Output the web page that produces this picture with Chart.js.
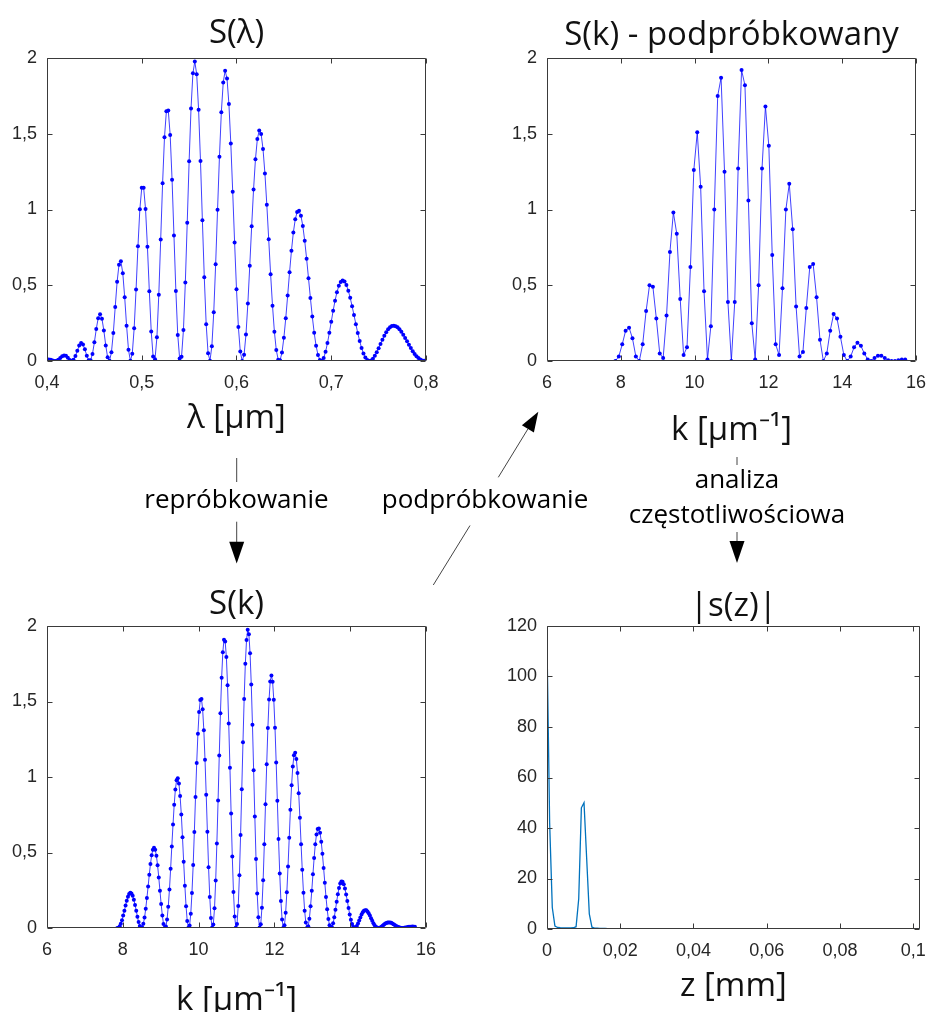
<!DOCTYPE html>
<html><head><meta charset="utf-8">
<script src="https://cdn.jsdelivr.net/npm/chart.js@4.4.1/dist/chart.umd.min.js"></script>
<style>
html,body{margin:0;padding:0;background:#fff;width:937px;height:1012px;overflow:hidden;position:relative;}
canvas{position:absolute;}
#overlay{position:absolute;left:0;top:0;pointer-events:none;}
</style></head><body>
<canvas id="cTL" width="470" height="450" style="left:0;top:0"></canvas>
<canvas id="cTR" width="437" height="450" style="left:500px;top:0"></canvas>
<canvas id="cBL" width="470" height="450" style="left:0;top:570px"></canvas>
<canvas id="cBR" width="437" height="450" style="left:500px;top:570px"></canvas>
<svg id="overlay" width="937" height="1012" xmlns="http://www.w3.org/2000/svg">
  <g stroke="#444" stroke-width="1" fill="none">
    <line x1="236.7" y1="458" x2="236.7" y2="482"/>
    <line x1="236.7" y1="521.7" x2="236.7" y2="542"/>
    <line x1="433.3" y1="585" x2="470" y2="525.5"/>
    <line x1="498.3" y1="477.3" x2="528" y2="428.8"/>
    <line x1="737" y1="457" x2="737" y2="465"/>
    <line x1="737" y1="532" x2="737" y2="541"/>
  </g>
  <g fill="#000" stroke="none">
    <polygon points="229.2,541.7 244.2,541.7 236.7,563.5"/>
    <polygon points="538.3,411.7 533.9,432.4 521.9,425.2"/>
    <polygon points="729.5,541 744.5,541 737,563"/>
  </g>
  <g font-family="Open Sans" font-size="26" fill="#000" text-anchor="middle">
    <text x="236.5" y="508">repróbkowanie</text>
    <text x="485" y="508">podpróbkowanie</text>
    <text x="737" y="488">analiza</text>
    <text x="737" y="523">częstotliwościowa</text>
  </g>
</svg>
<script>
// ---- chart texts ----
const titles = ['S(λ)', 'S(k) - podpróbkowany', 'S(k)', '|s(z)|'];
const xAxisTitles = ['λ [μm]', 'k [μm⁻¹]', 'k [μm⁻¹]', 'z [mm]'];

// ---- tick values ----
const xTicksLambda = [0.4, 0.5, 0.6, 0.7, 0.8];
const xTicksK = [6, 8, 10, 12, 14, 16];
const xTicksZ = [0, 0.02, 0.04, 0.06, 0.08, 0.1];
const yTicksS = [0, 0.5, 1, 1.5, 2];
const yTicksAbs = [0, 20, 40, 60, 80, 100, 120];

// ---- S(lambda) ----
const lambdaUm = [
0.4,0.402,0.404,0.406,0.408,0.41,0.412,0.414,0.416,0.418,
0.42,0.422,0.424,0.426,0.428,0.43,0.432,0.434,0.436,0.438,
0.44,0.442,0.444,0.446,0.448,0.45,0.452,0.454,0.456,0.458,
0.46,0.462,0.464,0.466,0.468,0.47,0.472,0.474,0.476,0.478,
0.48,0.482,0.484,0.486,0.488,0.49,0.492,0.494,0.496,0.498,
0.5,0.502,0.504,0.506,0.508,0.51,0.512,0.514,0.516,0.518,
0.52,0.522,0.524,0.526,0.528,0.53,0.532,0.534,0.536,0.538,
0.54,0.542,0.544,0.546,0.548,0.55,0.552,0.554,0.556,0.558,
0.56,0.562,0.564,0.566,0.568,0.57,0.572,0.574,0.576,0.578,
0.58,0.582,0.584,0.586,0.588,0.59,0.592,0.594,0.596,0.598,
0.6,0.602,0.604,0.606,0.608,0.61,0.612,0.614,0.616,0.618,
0.62,0.622,0.624,0.626,0.628,0.63,0.632,0.634,0.636,0.638,
0.64,0.642,0.644,0.646,0.648,0.65,0.652,0.654,0.656,0.658,
0.66,0.662,0.664,0.666,0.668,0.67,0.672,0.674,0.676,0.678,
0.68,0.682,0.684,0.686,0.688,0.69,0.692,0.694,0.696,0.698,
0.7,0.702,0.704,0.706,0.708,0.71,0.712,0.714,0.716,0.718,
0.72,0.722,0.724,0.726,0.728,0.73,0.732,0.734,0.736,0.738,
0.74,0.742,0.744,0.746,0.748,0.75,0.752,0.754,0.756,0.758,
0.76,0.762,0.764,0.766,0.768,0.77,0.772,0.774,0.776,0.778,
0.78,0.782,0.784,0.786,0.788,0.79,0.792,0.794,0.796,0.798,
0.8];
const sLambda = [
0.009,0.010,0.008,0.004,0.000,0.001,0.008,0.019,0.031,0.037,
0.034,0.022,0.007,0.000,0.008,0.033,0.068,0.102,0.118,0.109,
0.077,0.035,0.005,0.005,0.047,0.123,0.211,0.282,0.309,0.279,
0.201,0.103,0.024,0.001,0.057,0.185,0.357,0.523,0.636,0.658,
0.579,0.421,0.233,0.074,0.001,0.048,0.216,0.472,0.757,1.002,
1.143,1.144,1.003,0.754,0.460,0.195,0.030,0.012,0.156,0.438,
0.802,1.174,1.477,1.649,1.654,1.492,1.196,0.828,0.462,0.172,
0.016,0.028,0.205,0.518,0.913,1.319,1.667,1.899,1.977,1.892,
1.658,1.320,0.929,0.552,0.243,0.051,0.002,0.098,0.322,0.638,
0.998,1.348,1.642,1.839,1.916,1.864,1.696,1.435,1.117,0.783,
0.473,0.224,0.062,0.000,0.042,0.175,0.380,0.628,0.889,1.132,
1.331,1.465,1.522,1.498,1.399,1.237,1.032,0.803,0.573,0.365,
0.193,0.072,0.009,0.005,0.056,0.153,0.283,0.432,0.585,0.728,
0.848,0.935,0.984,0.991,0.959,0.891,0.793,0.675,0.546,0.416,
0.293,0.186,0.100,0.040,0.007,0.001,0.020,0.061,0.118,0.186,
0.259,0.332,0.398,0.454,0.496,0.522,0.531,0.524,0.501,0.464,
0.417,0.362,0.303,0.243,0.184,0.132,0.086,0.049,0.023,0.006,
0.000,0.003,0.015,0.034,0.057,0.084,0.113,0.141,0.167,0.190,
0.209,0.223,0.231,0.233,0.230,0.222,0.209,0.193,0.173,0.152,
0.130,0.107,0.086,0.065,0.047,0.032,0.019,0.010,0.004,0.001,
0.000];

// ---- S(k), resampled ----
const kGrid = [
7.854,7.885,7.917,7.948,7.979,8.010,8.042,8.073,8.104,8.136,8.167,8.198,8.229,8.261,8.292,8.323,8.355,8.386,8.417,8.449,
8.480,8.511,8.542,8.574,8.605,8.636,8.668,8.699,8.730,8.761,8.793,8.824,8.855,8.887,8.918,8.949,8.980,9.012,9.043,9.074,
9.106,9.137,9.168,9.199,9.231,9.262,9.293,9.325,9.356,9.387,9.419,9.450,9.481,9.512,9.544,9.575,9.606,9.638,9.669,9.700,
9.731,9.763,9.794,9.825,9.857,9.888,9.919,9.950,9.982,10.013,10.044,10.076,10.107,10.138,10.169,10.201,10.232,10.263,10.295,10.326,
10.357,10.388,10.420,10.451,10.482,10.514,10.545,10.576,10.608,10.639,10.670,10.701,10.733,10.764,10.795,10.827,10.858,10.889,10.920,10.952,
10.983,11.014,11.046,11.077,11.108,11.139,11.171,11.202,11.233,11.265,11.296,11.327,11.358,11.390,11.421,11.452,11.484,11.515,11.546,11.578,
11.609,11.640,11.671,11.703,11.734,11.765,11.797,11.828,11.859,11.890,11.922,11.953,11.984,12.016,12.047,12.078,12.109,12.141,12.172,12.203,
12.235,12.266,12.297,12.328,12.360,12.391,12.422,12.454,12.485,12.516,12.548,12.579,12.610,12.641,12.673,12.704,12.735,12.767,12.798,12.829,
12.860,12.892,12.923,12.954,12.986,13.017,13.048,13.079,13.111,13.142,13.173,13.205,13.236,13.267,13.298,13.330,13.361,13.392,13.424,13.455,
13.486,13.517,13.549,13.580,13.611,13.643,13.674,13.705,13.737,13.768,13.799,13.830,13.862,13.893,13.924,13.956,13.987,14.018,14.049,14.081,
14.112,14.143,14.175,14.206,14.237,14.268,14.300,14.331,14.362,14.394,14.425,14.456,14.487,14.519,14.550,14.581,14.613,14.644,14.675,14.707,
14.738,14.769,14.800,14.832,14.863,14.894,14.926,14.957,14.988,15.019,15.051,15.082,15.113,15.145,15.176,15.207,15.238,15.270,15.301,15.332,
15.364,15.395,15.426,15.457,15.489,15.520,15.551,15.583,15.614,15.645,15.677,15.708];
const sK = [
0.000,0.002,0.011,0.028,0.052,0.082,0.115,0.149,0.181,0.207,0.225,0.233,0.229,0.214,0.187,0.153,0.114,0.074,0.039,0.013,
0.001,0.005,0.028,0.069,0.127,0.198,0.275,0.353,0.424,0.481,0.519,0.532,0.518,0.478,0.415,0.335,0.247,0.159,0.083,0.027,
0.001,0.010,0.057,0.140,0.255,0.392,0.540,0.686,0.816,0.917,0.978,0.992,0.957,0.874,0.752,0.601,0.438,0.279,0.144,0.047,
0.002,0.017,0.095,0.232,0.417,0.636,0.868,1.092,1.286,1.430,1.510,1.517,1.448,1.310,1.115,0.883,0.637,0.402,0.205,0.066,
0.003,0.024,0.131,0.315,0.560,0.845,1.142,1.422,1.658,1.826,1.909,1.898,1.794,1.607,1.354,1.061,0.758,0.474,0.239,0.076,
0.003,0.027,0.146,0.349,0.616,0.919,1.230,1.516,1.750,1.908,1.975,1.945,1.820,1.613,1.346,1.045,0.738,0.457,0.228,0.072,
0.003,0.025,0.134,0.317,0.554,0.819,1.084,1.324,1.513,1.633,1.673,1.631,1.511,1.326,1.096,0.842,0.589,0.361,0.178,0.056,
0.002,0.019,0.101,0.236,0.408,0.597,0.783,0.946,1.070,1.144,1.161,1.120,1.027,0.893,0.730,0.555,0.385,0.234,0.114,0.036,
0.001,0.012,0.062,0.144,0.246,0.356,0.463,0.554,0.620,0.656,0.659,0.630,0.572,0.492,0.398,0.300,0.206,0.124,0.060,0.018,
0.001,0.006,0.031,0.072,0.121,0.174,0.224,0.265,0.294,0.308,0.306,0.290,0.261,0.222,0.178,0.133,0.090,0.054,0.026,0.008,
0.000,0.003,0.013,0.029,0.049,0.070,0.089,0.104,0.114,0.118,0.117,0.109,0.097,0.082,0.065,0.048,0.032,0.019,0.009,0.003,
0.000,0.001,0.004,0.010,0.016,0.023,0.029,0.033,0.036,0.037,0.036,0.034,0.030,0.025,0.020,0.014,0.010,0.006,0.003,0.001,
0.000,0.000,0.001,0.003,0.004,0.006,0.008,0.009,0.009,0.010,0.009,0.009];

// ---- S(k), undersampled ----
const kSub = [
7.854,7.946,8.039,8.131,8.224,8.316,8.408,8.501,8.593,8.686,
8.778,8.870,8.963,9.055,9.148,9.240,9.332,9.425,9.517,9.610,
9.702,9.794,9.887,9.979,10.072,10.164,10.256,10.349,10.441,10.534,
10.626,10.718,10.811,10.903,10.996,11.088,11.180,11.273,11.365,11.458,
11.550,11.642,11.735,11.827,11.920,12.012,12.104,12.197,12.289,12.382,
12.474,12.566,12.659,12.751,12.844,12.936,13.028,13.121,13.213,13.306,
13.398,13.490,13.583,13.675,13.768,13.860,13.952,14.045,14.137,14.230,
14.322,14.414,14.507,14.599,14.692,14.784,14.876,14.969,15.061,15.154,
15.246,15.338,15.431,15.523,15.616,15.708];
const sSub = [
0.00,0.03,0.11,0.20,0.22,0.15,0.03,0.00,0.11,0.33,
0.50,0.49,0.28,0.05,0.02,0.30,0.72,0.98,0.84,0.41,
0.04,0.09,0.62,1.26,1.51,1.15,0.46,0.01,0.23,1.00,
1.75,1.87,1.25,0.39,0.00,0.39,1.27,1.92,1.82,1.06,
0.25,0.01,0.50,1.27,1.68,1.42,0.70,0.11,0.04,0.48,
1.00,1.17,0.87,0.36,0.03,0.06,0.35,0.62,0.64,0.42,
0.14,0.00,0.05,0.20,0.31,0.28,0.16,0.04,0.00,0.03,
0.09,0.12,0.10,0.05,0.01,0.00,0.02,0.035,0.035,0.02,
0.005,0.00,0.00,0.005,0.01,0.01];

// ---- |s(z)| ----
const zMm = [
0,0.000722,0.001444,0.002166,0.002888,0.00361,0.004332,0.005054,0.005776,0.006498,
0.00722,0.007942,0.008664,0.009386,0.010108,0.01083,0.011552,0.012274,0.012996,0.013718,
0.01444,0.015162,0.015884,0.016606,0.017328,0.01805,0.018772,0.019494,0.020216,0.020938,
0.02166,0.022382,0.023104,0.023826,0.024548,0.02527,0.025992,0.026714,0.027436,0.028158,
0.02888,0.029602,0.030324,0.031046,0.031768,0.03249,0.033212,0.033934,0.034656,0.035378,
0.0361,0.036822,0.037544,0.038266,0.038988,0.03971,0.040432,0.041154,0.041876,0.042598,
0.04332,0.044042,0.044764,0.045486,0.046208,0.04693,0.047652,0.048374,0.049096,0.049818,
0.05054,0.051262,0.051984,0.052706,0.053428,0.05415,0.054872,0.055594,0.056316,0.057038,
0.05776,0.058482,0.059204,0.059926,0.060648,0.06137,0.062092,0.062814,0.063536,0.064258,
0.06498,0.065702,0.066424,0.067146,0.067868,0.06859,0.069312,0.070034,0.070756,0.071478,
0.0722,0.072922,0.073644,0.074366,0.075088,0.07581,0.076532,0.077254,0.077976,0.078698,
0.07942,0.080142,0.080864,0.081586,0.082308,0.08303,0.083752,0.084474,0.085196,0.085918,
0.08664,0.087362,0.088084,0.088806,0.089528,0.09025,0.090972,0.091694,0.092416,0.093138,
0.09386,0.094582,0.095304,0.096026,0.096748,0.09747,0.098192,0.098914,0.099636,0.100358,
0.10108,0.101802];
const sAbs = [
113.5,42,8.5,1.2,0.6,0.5,0.45,0.45,0.45,0.45,
0.5,0.9,12,48,50,28,6,0.7,0.35,0.3,
0.25,0.22,0.2,0.18,0.17,0.16,0.15,0.14,0.13,0.12,
0.12,0.11,0.11,0.1,0.1,0.1,0.1,0.09,0.09,0.09,
0.09,0.08,0.08,0.08,0.08,0.08,0.07,0.07,0.07,0.07,
0.07,0.07,0.07,0.06,0.06,0.06,0.06,0.06,0.06,0.06,
0.06,0.06,0.05,0.05,0.05,0.05,0.05,0.05,0.05,0.05,
0.05,0.05,0.05,0.05,0.05,0.05,0.04,0.04,0.04,0.04,
0.04,0.04,0.04,0.04,0.04,0.04,0.04,0.04,0.04,0.04,
0.04,0.04,0.04,0.04,0.04,0.04,0.04,0.04,0.04,0.04,
0.04,0.04,0.04,0.04,0.04,0.04,0.04,0.04,0.04,0.04,
0.04,0.04,0.04,0.04,0.04,0.04,0.04,0.04,0.04,0.04,
0.04,0.04,0.04,0.04,0.04,0.04,0.04,0.04,0.04,0.04,
0.04,0.04,0.04,0.04,0.04,0.04,0.04,0.04,0.04,0.04,
0.04,0.04];

const fmt = v => String(+Number(v).toFixed(4)).replace('.', ',');

const boxTicks = {
  id: 'boxTicks',
  afterDatasetsDraw(chart) {
    const {ctx, chartArea: a, scales} = chart;
    const L = Math.round(a.left) + 0.5, R = Math.round(a.right) - 0.5;
    const T = Math.round(a.top) + 0.5, B = Math.round(a.bottom) - 0.5;
    ctx.save();
    ctx.strokeStyle = '#3a3a3a';
    ctx.lineWidth = 1;
    ctx.beginPath();
    ctx.rect(L, T, R - L, B - T);
    const tl = 5;
    scales.x.ticks.forEach(t => {
      const px = Math.round(scales.x.getPixelForValue(t.value)) + 0.5;
      ctx.moveTo(px, B); ctx.lineTo(px, B - tl);
      ctx.moveTo(px, T); ctx.lineTo(px, T + tl);
    });
    scales.y.ticks.forEach(t => {
      const py = Math.round(scales.y.getPixelForValue(t.value)) + 0.5;
      ctx.moveTo(L, py); ctx.lineTo(L + tl, py);
      ctx.moveTo(R, py); ctx.lineTo(R - tl, py);
    });
    ctx.stroke();
    ctx.restore();
  }
};

function makeChart(id, c) {
  const pts = c.xs.map((x, i) => ({x: x, y: c.ys[i]}));
  return new Chart(document.getElementById(id), {
    type: 'line',
    data: { datasets: [{
      data: pts,
      borderColor: c.lineColor,
      borderWidth: c.lineWidth,
      pointRadius: c.pointRadius,
      pointBackgroundColor: '#0000ff',
      pointBorderWidth: 0,
      pointHoverRadius: 0,
      tension: 0,
      fill: false
    }]},
    options: {
      responsive: false,
      animation: false,
      devicePixelRatio: 1,
      events: [],
      layout: { padding: { left: 0, right: c.padRight, top: 0, bottom: 0 } },
      plugins: {
        legend: { display: false },
        tooltip: { enabled: false },
        title: {
          display: true, text: c.title, fullSize: false,
          color: '#111',
          font: { family: 'Open Sans', size: 33, weight: 'normal', lineHeight: 1 },
          padding: { top: c.tTop, bottom: c.tBottom }
        }
      },
      scales: {
        x: {
          type: 'linear', min: c.xMin, max: c.xMax,
          afterBuildTicks: s => { s.ticks = c.xTicks.map(v => ({value: v})); },
          afterFit: s => { s.height = c.xAxisH; },
          grid: { display: false, drawTicks: false },
          border: { display: false },
          ticks: { padding: 11, autoSkip: false, maxRotation: 0, color: '#262626',
                   font: { family: 'Liberation Sans', size: 18 }, callback: v => fmt(v) },
          title: { display: true, text: c.xTitle, color: '#111',
                   font: { family: 'Open Sans', size: 33, lineHeight: 1.2 },
                   padding: { top: 0, bottom: c.xTitlePB } }
        },
        y: {
          type: 'linear', min: c.yMin, max: c.yMax,
          afterBuildTicks: s => { s.ticks = c.yTicks.map(v => ({value: v})); },
          afterFit: s => { s.width = 47; },
          grid: { display: false, drawTicks: false },
          border: { display: false },
          ticks: { padding: 10, autoSkip: false, color: '#262626',
                   font: { family: 'Liberation Sans', size: 18 }, callback: v => fmt(v) }
        }
      }
    },
    plugins: [boxTicks]
  });
}

function drawAll() {
  const dotted = { lineColor: 'rgba(0,0,255,0.75)', lineWidth: 1, pointRadius: 2 };
  makeChart('cTL', Object.assign({}, dotted, {
    xs: lambdaUm, ys: sLambda, title: titles[0], xTitle: xAxisTitles[0],
    xMin: 0.4, xMax: 0.8, yMin: 0, yMax: 2, xTicks: xTicksLambda, yTicks: yTicksS,
    padRight: 44, tTop: 17, tBottom: 8, xAxisH: 89, xTitlePB: 12 }));
  makeChart('cTR', Object.assign({}, dotted, {
    xs: kSub, ys: sSub, title: titles[1], xTitle: xAxisTitles[1],
    xMin: 6, xMax: 16, yMin: 0, yMax: 2, xTicks: xTicksK, yTicks: yTicksS,
    padRight: 12, tTop: 19, tBottom: 6, xAxisH: 89, xTitlePB: 0 }));
  makeChart('cBL', Object.assign({}, dotted, {
    xs: kGrid, ys: sK, title: titles[2], xTitle: xAxisTitles[2],
    xMin: 6, xMax: 16, yMin: 0, yMax: 2, xTicks: xTicksK, yTicks: yTicksS,
    padRight: 44, tTop: 18, tBottom: 5, xAxisH: 92, xTitlePB: 0 }));
  makeChart('cBR', {
    lineColor: '#0072BD', lineWidth: 1.3, pointRadius: 0,
    xs: zMm, ys: sAbs, title: titles[3], xTitle: xAxisTitles[3],
    xMin: 0, xMax: 0.1018, yMin: 0, yMax: 120, xTicks: xTicksZ, yTicks: yTicksAbs,
    padRight: 12, tTop: 20, tBottom: 3, xAxisH: 91, xTitlePB: 14 });
}

const fontLoads = document.fonts ? Promise.all([
  document.fonts.load('33px "Open Sans"'),
  document.fonts.load('18px "Liberation Sans"')
]).catch(() => null) : Promise.resolve();
fontLoads.then(drawAll);
</script>
</body></html>
